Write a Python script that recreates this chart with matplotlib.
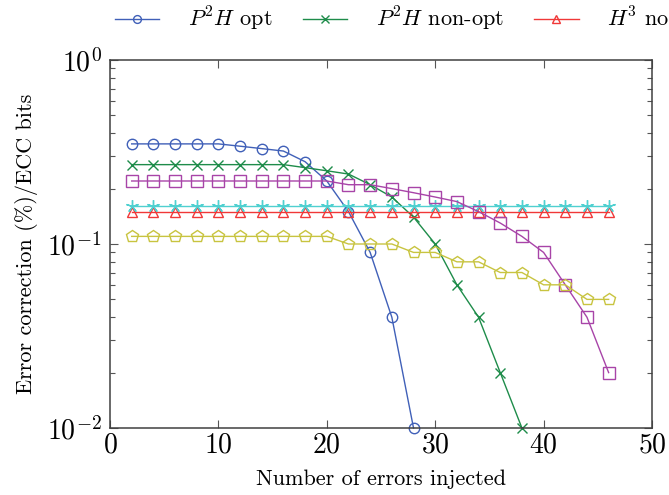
import numpy as np
import matplotlib
matplotlib.use("Agg")
import matplotlib.pyplot as plt
from matplotlib.ticker import LogLocator, NullFormatter

plt.rcParams['font.family'] = 'serif'
plt.rcParams['font.serif'] = ['cmr10', 'DejaVu Serif']
plt.rcParams['mathtext.fontset'] = 'cm'
plt.rcParams['axes.formatter.use_mathtext'] = True

# errors injected
x_all = [2, 4, 6, 8, 10, 12, 14, 16, 18, 20, 22, 24, 26, 28, 30, 32, 34, 36, 38, 40, 42, 44, 46]

# series
p2h_opt = [0.35, 0.35, 0.35, 0.35, 0.35, 0.34, 0.33, 0.32, 0.28, 0.22, 0.15, 0.09, 0.04, 0.01]
p2h_nonopt = [0.27, 0.27, 0.27, 0.27, 0.27, 0.27, 0.27, 0.27, 0.26, 0.25, 0.24, 0.21, 0.18, 0.14,
              0.10, 0.06, 0.04, 0.02, 0.01]
h3_nonopt = [0.15] * 23
star_series = [0.16] * 23
square_series = [0.22, 0.22, 0.22, 0.22, 0.22, 0.22, 0.22, 0.22, 0.22, 0.22, 0.21, 0.21, 0.20, 0.19,
                 0.18, 0.17, 0.15, 0.13, 0.11, 0.09, 0.06, 0.04, 0.02]
pentagon_series = [0.11, 0.11, 0.11, 0.11, 0.11, 0.11, 0.11, 0.11, 0.11, 0.11, 0.10, 0.10, 0.10, 0.09,
                   0.09, 0.08, 0.08, 0.07, 0.07, 0.06, 0.06, 0.05, 0.05]

# label, values, colour, marker, size
series = [
    ("$P^2H$ opt", p2h_opt, '#4060b8', 'o', 7.5),
    ("$P^2H$ non-opt", p2h_nonopt, '#1e8c4a', 'x', 7),
    ("$H^3$ non-opt", h3_nonopt, '#f03838', '^', 7.5),
    ("$H^3$ opt", star_series, '#50d0d0', (5, 2, 0), 9),
    ("$P^2H$ full", square_series, '#a844a8', 's', 8),
    ("$H^3$ full", pentagon_series, '#c8c440', 'p', 9),
]

fig = plt.figure(figsize=(6.69, 4.95), dpi=100)
ax = fig.add_axes([110/669, 1 - 428/495, (652 - 110)/669, (428 - 60)/495])

handles = []
for label, vals, col, mk, ms in series:
    xs = x_all[:len(vals)]
    h, = ax.plot(xs, vals, color=col, lw=1.0, marker=mk, ms=ms,
                 mfc='none', mec=col, mew=1.0, label=label, clip_on=False)
    handles.append(h)

ax.set_yscale('log')
ax.set_xlim(0, 50)
ax.set_ylim(0.01, 1)
ax.set_xticks([0, 10, 20, 30, 40, 50])
ax.yaxis.set_major_locator(LogLocator(base=10, numticks=5))
ax.yaxis.set_minor_locator(LogLocator(base=10, subs=np.arange(2, 10), numticks=10))
ax.yaxis.set_minor_formatter(NullFormatter())

ax.tick_params(which='both', direction='in', top=True, right=True, colors='#555555',
               labelcolor='black', labelsize=20)
ax.tick_params(which='major', length=6, width=0.8)
ax.tick_params(which='minor', length=3.5, width=0.8)
ax.tick_params(axis='x', pad=3)
ax.tick_params(axis='y', pad=6)
for s in ax.spines.values():
    s.set_color('#404040')
    s.set_linewidth(1.1)

ax.set_xlabel('Number of errors injected', fontsize=16, labelpad=8)
ax.set_ylabel('Error correction (%)/ECC bits', fontsize=16, labelpad=6)

# only the first three entries fit in the reference, the third runs off the edge
leg = fig.legend(handles=handles[:3], loc='center left', bbox_to_anchor=(115/669, 1 - 19/495),
                 ncol=3, frameon=False, fontsize=16, handlelength=2.0, handletextpad=1.3,
                 columnspacing=1.35, borderpad=0, borderaxespad=0, markerscale=0.75)

fig.savefig('out.png', dpi=100)
